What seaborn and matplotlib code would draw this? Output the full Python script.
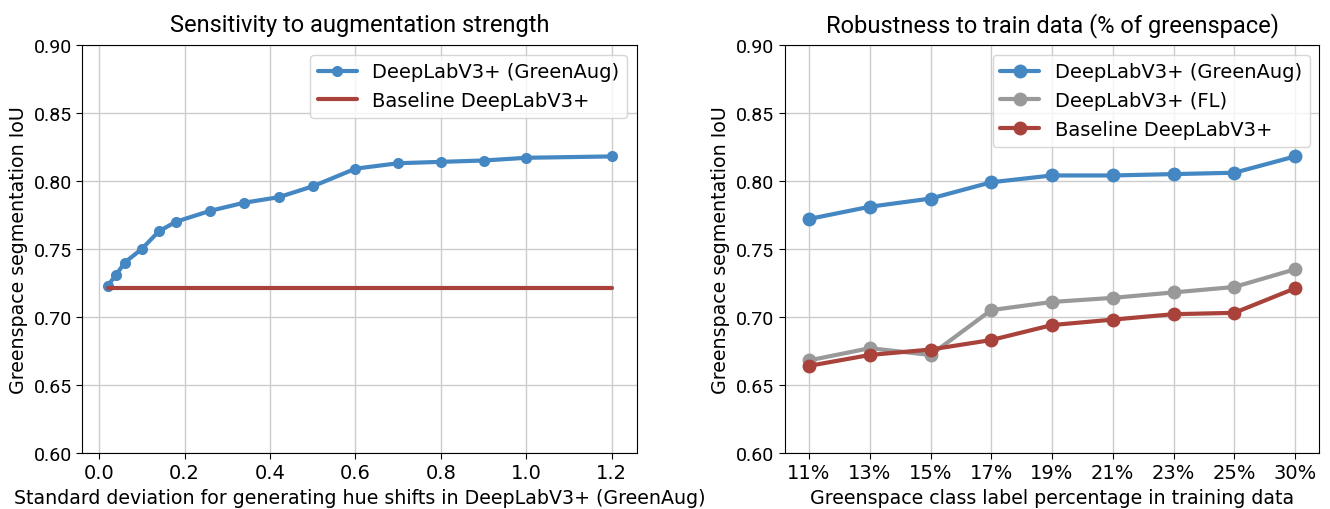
import matplotlib
matplotlib.use('Agg')
import matplotlib.pyplot as plt
import seaborn as sns
import pandas as pd

# left panel: augmentation strength sweep
hue_std = [0.02, 0.04, 0.06, 0.10, 0.14, 0.18, 0.26, 0.34, 0.42, 0.50,
           0.60, 0.70, 0.80, 0.90, 1.00, 1.20]
greenaug_iou = [0.723, 0.731, 0.740, 0.750, 0.763, 0.770, 0.778, 0.784, 0.788, 0.796,
                0.809, 0.813, 0.814, 0.815, 0.817, 0.818]
baseline_x = [0.02, 1.20]
baseline_iou = [0.721, 0.721]

# right panel: greenspace share in training data
pct_labels = ['11%', '13%', '15%', '17%', '19%', '21%', '23%', '25%', '30%']
greenaug_pct = [0.772, 0.781, 0.787, 0.799, 0.804, 0.804, 0.805, 0.806, 0.818]
fl_pct = [0.668, 0.677, 0.672, 0.705, 0.711, 0.714, 0.718, 0.722, 0.735]
baseline_pct = [0.664, 0.672, 0.676, 0.683, 0.694, 0.698, 0.702, 0.703, 0.721]

BLUE = '#4487c2'
GRAY = '#999999'
RED = '#a9423b'

sns.set_style('ticks', {'axes.grid': True, 'grid.color': '#cccccc', 'axes.edgecolor': 'black'})
plt.rcParams['font.family'] = ['DejaVu Sans']
plt.rcParams.update({'text.color': 'black', 'axes.labelcolor': 'black',
                     'xtick.color': 'black', 'ytick.color': 'black'})

fig = plt.figure(figsize=(13.3, 5.1), dpi=100)
ax1 = fig.add_axes([0.062, 0.11, 0.417, 0.80])
ax2 = fig.add_axes([0.590, 0.11, 0.402, 0.80])

sns.lineplot(x=hue_std, y=greenaug_iou, ax=ax1, color=BLUE, lw=3, marker='o',
             markersize=8, markeredgewidth=0, label='DeepLabV3+ (GreenAug)')
sns.lineplot(x=baseline_x, y=baseline_iou, ax=ax1, color=RED, lw=3,
             label='Baseline DeepLabV3+')
ax1.set_ylim(0.60, 0.90)
ax1.set_title('Sensitivity to augmentation strength', family='Roboto', fontsize=17, pad=10)
ax1.set_xlabel('Standard deviation for generating hue shifts in DeepLabV3+ (GreenAug)', fontsize=13.7)
ax1.set_ylabel('Greenspace segmentation IoU', fontsize=13.7)
ax1.legend(loc='upper right', fontsize=14)

df = pd.DataFrame({'pct': pct_labels, 'greenaug': greenaug_pct, 'fl': fl_pct, 'base': baseline_pct})
sns.lineplot(data=df, x='pct', y='greenaug', ax=ax2, color=BLUE, lw=3, marker='o',
             markersize=10, markeredgewidth=0, label='DeepLabV3+ (GreenAug)')
sns.lineplot(data=df, x='pct', y='fl', ax=ax2, color=GRAY, lw=3, marker='o',
             markersize=10, markeredgewidth=0, label='DeepLabV3+ (FL)')
sns.lineplot(data=df, x='pct', y='base', ax=ax2, color=RED, lw=3, marker='o',
             markersize=10, markeredgewidth=0, label='Baseline DeepLabV3+')
ax2.set_ylim(0.60, 0.90)
ax2.set_title('Robustness to train data (% of greenspace)', family='Roboto', fontsize=17, pad=10)
ax2.set_xlabel('Greenspace class label percentage in training data', fontsize=13.7)
ax2.set_ylabel('Greenspace segmentation IoU', fontsize=13.7)
ax2.legend(loc='upper right', fontsize=14)

for ax in (ax1, ax2):
    ax.tick_params(axis='x', labelsize=14, length=4)
    ax.tick_params(axis='y', labelsize=14, length=4)
    for t in ax.get_yticklabels():
        t.set_family('Roboto')
    ax.grid(True, color='#cccccc', lw=1)

fig.savefig('out.png')
